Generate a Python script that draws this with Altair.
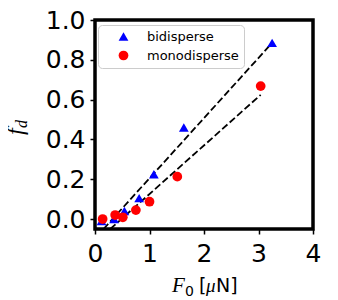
import altair as alt
import pandas as pd

series_names = ["bidisperse", "monodisperse"]
bi_x = [0.12, 0.35, 0.54, 0.81, 1.08, 1.63, 3.25]
bi_y = [-0.01, 0.0, 0.04, 0.105, 0.225, 0.46, 0.885]
mono_x = [0.14, 0.37, 0.51, 0.75, 1.0, 1.51, 3.04]
mono_y = [0.0, 0.02, 0.009, 0.045, 0.087, 0.213, 0.668]
fit_bi_x = [0.156, 3.25]
fit_bi_y = [-0.05, 0.885]
fit_mono_x = [0.28, 3.04]
fit_mono_y = [-0.05, 0.624]
x_ticks = [0, 1, 2, 3, 4]
y_ticks = [0.0, 0.2, 0.4, 0.6, 0.8, 1.0]

pts = pd.DataFrame({
    "x": bi_x + mono_x,
    "y": bi_y + mono_y,
    "series": [series_names[0]] * len(bi_x) + [series_names[1]] * len(mono_x),
})
fits = pd.DataFrame({
    "x": fit_bi_x + fit_mono_x,
    "y": fit_bi_y + fit_mono_y,
    "series": [series_names[0]] * 2 + [series_names[1]] * 2,
})

W, H = 218, 209
xs = alt.Scale(domain=[0, 4], nice=False, zero=False)
ys = alt.Scale(domain=[-0.05, 1.0], nice=False, zero=False)

xax = alt.Axis(values=x_ticks, format="d", title=None, grid=False, domain=False,
               tickColor="black", tickWidth=1.5, tickSize=5, labelPadding=7,
               labelFlush=False, labelOverlap=False,
               labelFontSize=25, labelColor="black", labelFont="DejaVu Sans")
yax = alt.Axis(values=y_ticks, format=".1f", title=None, grid=False, domain=False,
               tickColor="black", tickWidth=1.5, tickSize=5, labelPadding=5,
               labelFlush=False, labelOverlap=False,
               labelFontSize=25, labelColor="black", labelFont="DejaVu Sans")

points = alt.Chart(pts).mark_point(filled=True, size=95, opacity=1).encode(
    x=alt.X("x:Q", scale=xs, axis=xax),
    y=alt.Y("y:Q", scale=ys, axis=yax),
    color=alt.Color("series:N", scale=alt.Scale(domain=series_names, range=["#0000ff", "#ff0000"]),
                    legend=alt.Legend(title=None, orient="none", legendX=3, legendY=5)),
    shape=alt.Shape("series:N", scale=alt.Scale(domain=series_names, range=["triangle-up", "circle"]),
                    legend=alt.Legend(title=None, orient="none", legendX=3, legendY=5)),
)

lines = alt.Chart(fits).mark_line(color="black", strokeDash=[7, 3], strokeWidth=1.8, clip=True).encode(
    x=alt.X("x:Q", scale=xs),
    y=alt.Y("y:Q", scale=ys),
    detail="series:N",
)

one = pd.DataFrame({"a": [0]})

def txt(s, x, y, size, font, style="normal", angle=0, align="left"):
    return alt.Chart(one).mark_text(text=s, fontSize=size, font=font, fontStyle=style,
                                    angle=angle, align=align, baseline="alphabetic",
                                    color="black").encode(x=alt.value(x), y=alt.value(y))

titles = [
    txt("F", 77, 272, 21, "Liberation Serif", "italic"),
    txt("0", 90, 276, 14, "DejaVu Sans"),
    txt("[", 104, 272, 19, "DejaVu Sans"),
    txt("μ", 111, 272, 19, "Liberation Serif", "italic"),
    txt("N]", 121, 272, 19, "DejaVu Sans"),
    txt("f", -72, 115, 24, "Liberation Serif", "italic", angle=270),
    txt("d", -68, 108, 16, "Liberation Serif", "italic", angle=270),
]

chart = alt.layer(lines, points, *titles).properties(
    width=W, height=H,
    autosize=alt.AutoSizeParams(type="none"),
    padding={"left": 87, "top": 12, "right": 10, "bottom": 69},
).configure_view(stroke="black", strokeWidth=3.5).configure_legend(
    padding=5, symbolOffset=14, labelOffset=17, labelFontSize=13, labelFont="DejaVu Sans",
    labelColor="black", symbolSize=95, rowPadding=5, strokeColor="#cccccc",
    fillColor="white", cornerRadius=4, symbolStrokeWidth=0,
)

chart.save("out.html", embed_options={"renderer": "svg", "actions": False})
